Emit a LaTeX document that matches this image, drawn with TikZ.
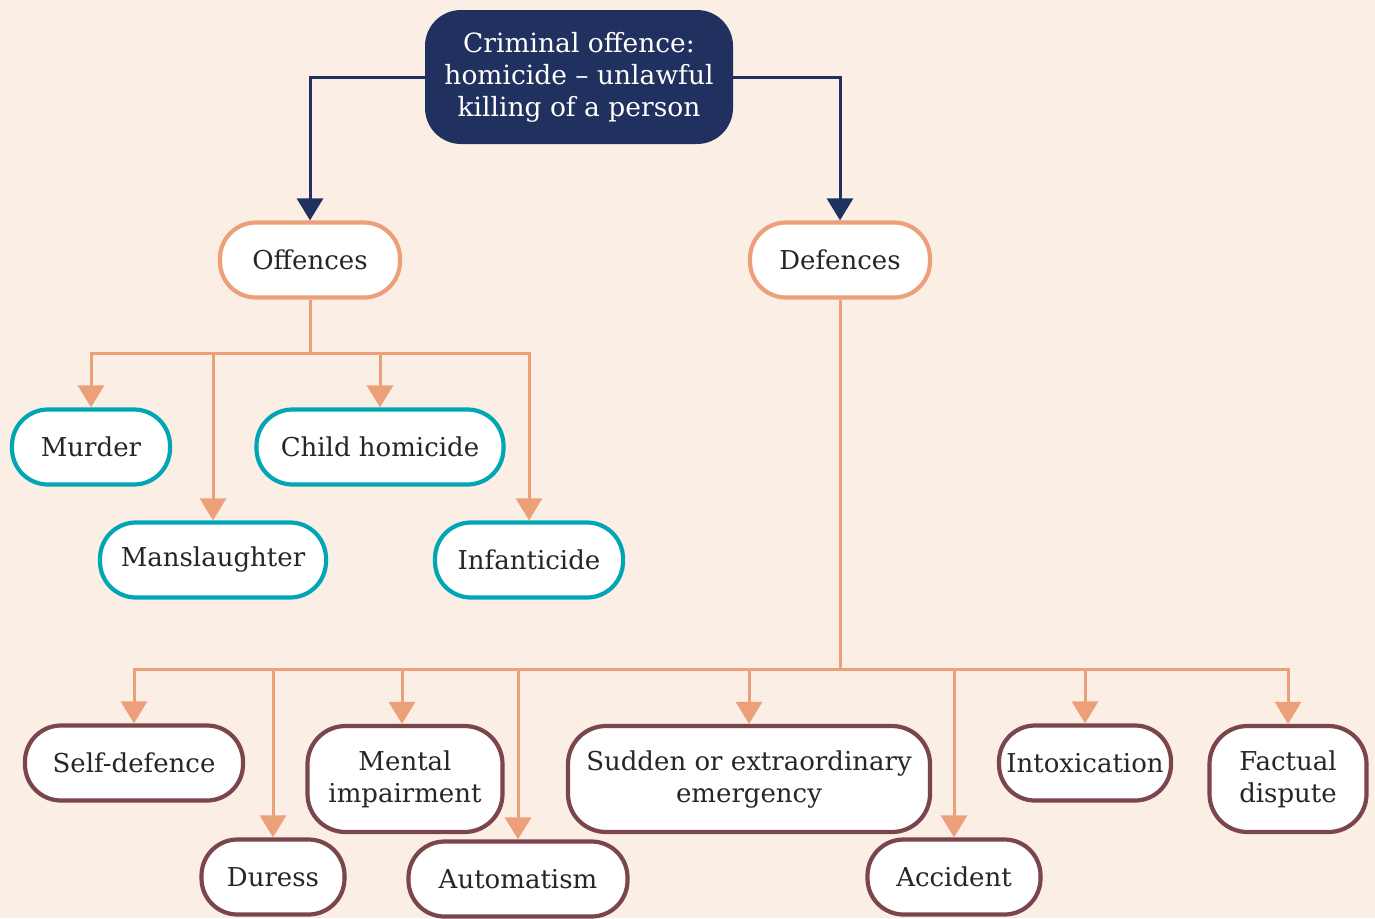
\documentclass[tikz,border=0pt]{standalone}
\usepackage{fontspec}
\setmainfont{DejaVu Serif}
\usetikzlibrary{arrows.meta}
\definecolor{bgc}{HTML}{FBEEE5}
\definecolor{navy}{HTML}{21315F}
\definecolor{peach}{HTML}{EBA07A}
\definecolor{teal}{HTML}{00A6B4}
\definecolor{maroon}{HTML}{7B454D}
\definecolor{ink}{HTML}{262626}
\tikzset{
  x=1pt, y=-1pt,
  pill/.style={draw, line width=4.2pt, fill=white, text=ink, inner sep=0pt,
    font=\fontsize{26}{32}\selectfont, align=center, rounded corners=36pt,
    minimum height=75pt},
  tall/.style={pill, minimum height=106pt, rounded corners=38pt},
  offbox/.style={pill, draw=teal},
  defbox/.style={pill, draw=maroon},
  headbox/.style={pill, draw=peach},
  navyarrow/.style={draw=navy, line width=3pt, -{Triangle[width=26pt,length=22pt]}},
  peachline/.style={draw=peach, line width=3pt},
  peacharrow/.style={peachline, -{Triangle[width=26pt,length=22pt]}},
}
\begin{document}
\begin{tikzpicture}
\fill[bgc] (0,0) rectangle (1375,918);
\useasboundingbox (0,0) rectangle (1375,918);

% root
\node[fill=navy, text=white, rounded corners=36pt, minimum width=308pt, minimum height=134pt,
  inner sep=0pt, align=center, font=\fontsize{26.5}{32}\selectfont] (root) at (579,77)
  {Criminal offence:\\homicide – unlawful\\killing of a person};

% two branches
\node[headbox, minimum width=180pt] (off) at (310,260) {Offences};
\node[headbox, minimum width=180pt] (def) at (840,260) {Defences};

% offences
\node[offbox, minimum width=158pt] (murder) at (91,447) {Murder};
\node[offbox, minimum width=247pt] (child) at (380,447) {Child homicide};
\node[offbox, minimum width=226pt] (mans) at (213,560) {Manslaughter};
\node[offbox, minimum width=188pt] (infant) at (529,560) {Infanticide};

% defences
\node[defbox, minimum width=218pt] (self) at (134,763) {Self-defence};
\node[defbox, minimum width=143pt] (duress) at (273,877) {Duress};
\node[defbox, tall, minimum width=195pt] (mental) at (405,779) {Mental\\impairment};
\node[defbox, minimum width=219pt] (auto) at (518,879) {Automatism};
\node[defbox, tall, minimum width=362pt] (sudden) at (749,779) {Sudden or extraordinary\\emergency};
\node[defbox, minimum width=173pt] (accident) at (954,877) {Accident};
\node[defbox, minimum width=172pt] (intox) at (1085,763) {Intoxication};
\node[defbox, tall, minimum width=157pt] (fact) at (1288,779) {Factual\\dispute};

% root connectors
\draw[navyarrow] (root.west) -| (off.north);
\draw[navyarrow] (root.east) -| (def.north);

% offence tree
\coordinate (oj) at (310,353);
\draw[peachline] (off.south) -- (oj);
\draw[peacharrow] (oj) -| (murder.north);
\draw[peacharrow] (oj) -| (mans.north);
\draw[peacharrow] (oj) -| (child.north);
\draw[peacharrow] (oj) -| (infant.north);

% defence tree
\coordinate (dj) at (840,669);
\draw[peachline] (def.south) -- (dj);
\draw[peacharrow] (dj) -| (self.north);
\draw[peacharrow] (dj) -| (duress.north);
\draw[peacharrow] (dj) -| ([xshift=-3pt]mental.north);
\draw[peacharrow] (dj) -| (auto.north);
\draw[peacharrow] (dj) -| (sudden.north);
\draw[peacharrow] (dj) -| (accident.north);
\draw[peacharrow] (dj) -| (intox.north);
\draw[peacharrow] (dj) -| (fact.north);
\end{tikzpicture}
\end{document}
